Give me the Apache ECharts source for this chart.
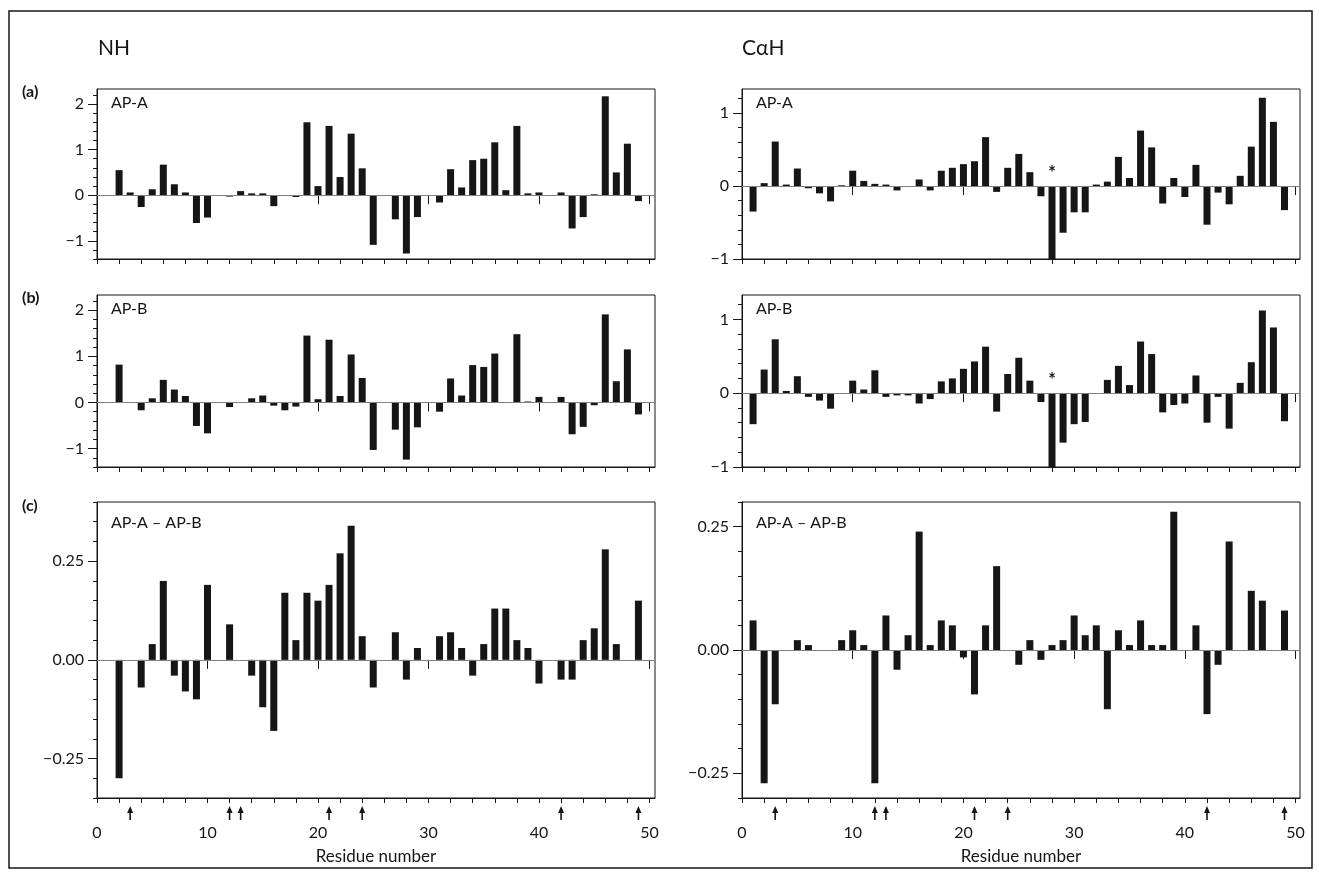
<!DOCTYPE html>
<html>
<head>
<meta charset="utf-8">
<script src="https://cdn.jsdelivr.net/npm/echarts@6/dist/echarts.min.js"></script>
<style>
  html, body { margin: 0; padding: 0; background: #fff; }
  #chart { width: 1319px; height: 879px; }
</style>
</head>
<body>
<div id="chart"></div>
<script>
// Residue numbers along the x axis
const residues = [1,2,3,4,5,6,7,8,9,10,11,12,13,14,15,16,17,18,19,20,21,22,23,24,25,
                  26,27,28,29,30,31,32,33,34,35,36,37,38,39,40,41,42,43,44,45,46,47,48,49];

// NH chemical shift deviations (ppm), residues 1..49, null = not observed
const nhA = [null,0.55,0.06,-0.26,0.13,0.67,0.24,0.06,-0.61,-0.49,
             null,-0.03,0.09,0.04,0.04,-0.24,0.00,-0.04,1.60,0.20,
             1.52,0.40,1.35,0.59,-1.09,null,-0.53,-1.28,-0.48,null,
             -0.16,0.57,0.17,0.77,0.80,1.16,0.11,1.52,0.04,0.06,
             null,0.06,-0.73,-0.48,0.02,2.17,0.50,1.13,-0.13];
const nhB = [null,0.82,null,-0.17,0.09,0.49,0.28,0.14,-0.51,-0.67,
             null,-0.10,null,0.09,0.15,-0.07,-0.17,-0.09,1.45,0.07,
             1.36,0.14,1.04,0.53,-1.03,null,-0.59,-1.24,-0.54,null,
             -0.20,0.52,0.15,0.81,0.77,1.06,-0.01,1.48,0.02,0.12,
             null,0.12,-0.69,-0.53,-0.06,1.91,0.46,1.15,-0.26];
const nhDiff = [null,-0.30,null,-0.07,0.04,0.20,-0.04,-0.08,-0.10,0.19,
                null,0.09,null,-0.04,-0.12,-0.18,0.17,0.05,0.17,0.15,
                0.19,0.27,0.34,0.06,-0.07,null,0.07,-0.05,0.03,null,
                0.06,0.07,0.03,-0.04,0.04,0.13,0.13,0.05,0.03,-0.06,
                null,-0.05,-0.05,0.05,0.08,0.28,0.04,null,0.15];

// CαH chemical shift deviations (ppm), residues 1..49
const caA = [-0.35,0.04,0.61,0.02,0.24,-0.03,-0.10,-0.21,0.01,0.21,
             0.07,0.03,0.02,-0.06,0.00,0.09,-0.06,0.21,0.25,0.30,
             0.34,0.67,-0.08,0.25,0.44,0.19,-0.14,-1.00,-0.64,-0.36,
             -0.36,0.02,0.06,0.40,0.11,0.76,0.53,-0.24,0.11,-0.15,
             0.29,-0.53,-0.09,-0.25,0.14,0.54,1.21,0.88,-0.33];
const caB = [-0.42,0.32,0.73,0.03,0.23,-0.05,-0.10,-0.21,-0.01,0.17,
             0.05,0.31,-0.05,-0.03,-0.03,-0.14,-0.08,0.16,0.20,0.33,
             0.43,0.63,-0.25,0.26,0.48,0.17,-0.12,-1.00,-0.67,-0.42,
             -0.39,-0.01,0.18,0.37,0.11,0.70,0.53,-0.26,-0.16,-0.14,
             0.24,-0.40,-0.05,-0.48,0.14,0.42,1.12,0.89,-0.38];
const caDiff = [0.06,-0.27,-0.11,null,0.02,0.01,null,null,0.02,0.04,
                0.01,-0.27,0.07,-0.04,0.03,0.24,0.01,0.06,0.05,-0.015,
                -0.09,0.05,0.17,null,-0.03,0.02,-0.02,0.01,0.02,0.07,
                0.03,0.05,-0.12,0.04,0.01,0.06,0.01,0.01,0.28,null,
                0.05,-0.13,-0.03,0.22,null,0.12,0.10,null,0.08];

// Marked residues (arrows under the difference plots) and the starred CαH residue
const arrowResidues = [3, 12, 13, 21, 24, 42, 49];
const starResidue = 28;
const starValue = 0.22;

// Tick values
const xMinorTicks = [0,2,4,6,8,10,12,14,16,18,20,22,24,26,28,30,32,34,36,38,40,42,44,46,48,50];
const xMajorTicks = [0,10,20,30,40,50];
const nhMinorTicks = [-1.4,-1.2,-1,-0.8,-0.6,-0.4,-0.2,0,0.2,0.4,0.6,0.8,1,1.2,1.4,1.6,1.8,2,2.2];
const nhMajorTicks = [-1,0,1,2];
const caMinorTicks = [-1,-0.8,-0.6,-0.4,-0.2,0,0.2,0.4,0.6,0.8,1,1.2];
const caMajorTicks = [-1,0,1];
const nhDiffMinorTicks = [-0.35,-0.3,-0.25,-0.2,-0.15,-0.1,-0.05,0,0.05,0.1,0.15,0.2,0.25,0.3,0.35,0.4];
const caDiffMinorTicks = [-0.3,-0.25,-0.2,-0.15,-0.1,-0.05,0,0.05,0.1,0.15,0.2,0.25,0.3];
const diffMajorTicks = [-0.25,0,0.25];

const FONT = "Lato, 'Open Sans', 'DejaVu Sans', sans-serif";
const INK = '#161616';

const intFmt = v => (v < 0 ? '\u2212' : '') + Math.abs(v);
const decFmt = v => (Math.abs(v) < 1e-9 ? '0.00' : (v < 0 ? '\u2212' : '') + Math.abs(v).toFixed(2));

const panels = [
  { values: nhA,    box: {left: 97,  top: 89,  width: 558, height: 170}, yMin: -1.4,  yMax: 2.33, minor: nhMinorTicks,     major: nhMajorTicks,   fmt: intFmt, xMax: 50.5, labels: false, arrows: false, star: false },
  { values: nhB,    box: {left: 97,  top: 295, width: 558, height: 172}, yMin: -1.4,  yMax: 2.33, minor: nhMinorTicks,     major: nhMajorTicks,   fmt: intFmt, xMax: 50.5, labels: false, arrows: false, star: false },
  { values: nhDiff, box: {left: 97,  top: 502, width: 558, height: 296}, yMin: -0.35, yMax: 0.40, minor: nhDiffMinorTicks, major: diffMajorTicks, fmt: decFmt, xMax: 50.5, labels: true,  arrows: true,  star: false },
  { values: caA,    box: {left: 742, top: 89,  width: 558, height: 170}, yMin: -1.0,  yMax: 1.33, minor: caMinorTicks,     major: caMajorTicks,   fmt: intFmt, xMax: 50.4, labels: false, arrows: false, star: true },
  { values: caB,    box: {left: 742, top: 295, width: 558, height: 172}, yMin: -1.0,  yMax: 1.33, minor: caMinorTicks,     major: caMajorTicks,   fmt: intFmt, xMax: 50.4, labels: false, arrows: false, star: true },
  { values: caDiff, box: {left: 742, top: 502, width: 558, height: 296}, yMin: -0.3,  yMax: 0.30, minor: caDiffMinorTicks, major: diffMajorTicks, fmt: decFmt, xMax: 50.4, labels: true,  arrows: true,  star: false }
];

const grids = [], xAxes = [], yAxes = [], series = [];

panels.forEach((p, i) => {
  grids.push({
    left: p.box.left, top: p.box.top, width: p.box.width, height: p.box.height,
    show: true, borderColor: INK, borderWidth: 1, backgroundColor: 'transparent', containLabel: false
  });

  const line = { show: true, onZero: false, lineStyle: { color: INK, width: 1 } };

  // x axis: short ticks every 2 residues
  xAxes.push({
    gridIndex: i, type: 'value', position: 'bottom', offset: 0, min: 0, max: p.xMax,
    axisLine: line, splitLine: { show: false },
    axisTick: { show: true, customValues: xMinorTicks, length: 5, lineStyle: { color: INK, width: 1 } },
    axisLabel: { show: false }
  });
  // x axis: long ticks every 10 residues, labelled on the bottom row
  xAxes.push({
    gridIndex: i, type: 'value', position: 'bottom', offset: 0, min: 0, max: p.xMax,
    axisLine: { show: false }, splitLine: { show: false },
    axisTick: { show: true, customValues: xMajorTicks, length: 9, lineStyle: { color: INK, width: 1 } },
    axisLabel: p.labels
      ? { show: true, customValues: xMajorTicks, margin: 27, fontSize: 16, color: INK, fontFamily: FONT }
      : { show: false },
    name: p.labels ? 'Residue number' : '',
    nameLocation: 'middle', nameGap: 50,
    nameTextStyle: { fontSize: 17, color: INK, fontFamily: FONT }
  });

  // y axis: minor ticks
  yAxes.push({
    gridIndex: i, type: 'value', position: 'left', offset: 0, min: p.yMin, max: p.yMax,
    axisLine: line, splitLine: { show: false },
    axisTick: { show: true, customValues: p.minor, length: 4, lineStyle: { color: INK, width: 1 } },
    axisLabel: { show: false }
  });
  // y axis: labelled major ticks
  yAxes.push({
    gridIndex: i, type: 'value', position: 'left', offset: 0, min: p.yMin, max: p.yMax,
    axisLine: { show: false }, splitLine: { show: false },
    axisTick: { show: true, customValues: p.major, length: 9, lineStyle: { color: INK, width: 1 } },
    axisLabel: { show: true, customValues: p.major, formatter: p.fmt, margin: 13, fontSize: 16, color: INK, fontFamily: FONT }
  });

  const pairs = [];
  residues.forEach((r, k) => { if (p.values[k] !== null) pairs.push([r, p.values[k]]); });

  series.push({
    type: 'bar', xAxisIndex: 2 * i, yAxisIndex: 2 * i,
    data: pairs, barWidth: 7,
    itemStyle: { color: INK },
    markLine: {
      silent: true, symbol: ['none', 'none'], label: { show: false },
      lineStyle: { color: '#808080', width: 1, type: 'solid' },
      data: [{ yAxis: 0 }]
    }
  });

  if (p.arrows) {
    series.push({
      type: 'custom', xAxisIndex: 2 * i, yAxisIndex: 2 * i,
      data: arrowResidues.map(r => [r]),
      renderItem: (params, api) => {
        const pt = api.coord([api.value(0), p.yMin]);
        const x = pt[0], yb = pt[1];
        return {
          type: 'group',
          children: [
            { type: 'line', shape: { x1: x, y1: yb + 13, x2: x, y2: yb + 22 }, style: { stroke: INK, lineWidth: 1.6 } },
            { type: 'polygon', shape: { points: [[x - 3, yb + 15], [x + 3, yb + 15], [x, yb + 8]] }, style: { fill: INK } }
          ]
        };
      }
    });
  }

  if (p.star) {
    series.push({
      type: 'custom', xAxisIndex: 2 * i, yAxisIndex: 2 * i,
      data: [[starResidue, starValue]],
      renderItem: (params, api) => {
        const pt = api.coord([api.value(0), api.value(1)]);
        return {
          type: 'text',
          style: { text: '*', x: pt[0], y: pt[1] + 3, align: 'center', verticalAlign: 'middle', fill: INK, font: 'bold 18px ' + FONT }
        };
      }
    });
  }
});

const txt = (text, x, y, size, weight) => ({
  type: 'text', left: x, top: y,
  style: { text: text, fill: INK, font: (weight || 'normal') + ' ' + size + 'px ' + FONT }
});

const option = {
  animation: false,
  backgroundColor: '#fff',
  grid: grids,
  xAxis: xAxes,
  yAxis: yAxes,
  series: series,
  graphic: [
    { type: 'rect', shape: { x: 9, y: 11, width: 1303, height: 857 }, style: { fill: 'none', stroke: INK, lineWidth: 1.5 } },
    txt('NH', 98, 38, 21),
    txt('C\u03B1H', 742, 38, 21),
    txt('(a)', 22, 84, 16, 'bold'),
    txt('(b)', 22, 290, 16, 'bold'),
    txt('(c)', 22, 498, 16, 'bold'),
    txt('AP-A', 111, 95, 16),
    txt('AP-B', 111, 301, 16),
    txt('AP-A \u2013 AP-B', 111, 515, 16),
    txt('AP-A', 756, 95, 16),
    txt('AP-B', 756, 301, 16),
    txt('AP-A \u2013 AP-B', 756, 515, 16)
  ]
};

const chart = echarts.init(document.getElementById('chart'), null, { renderer: 'canvas' });
chart.setOption(option);
</script>
</body>
</html>
